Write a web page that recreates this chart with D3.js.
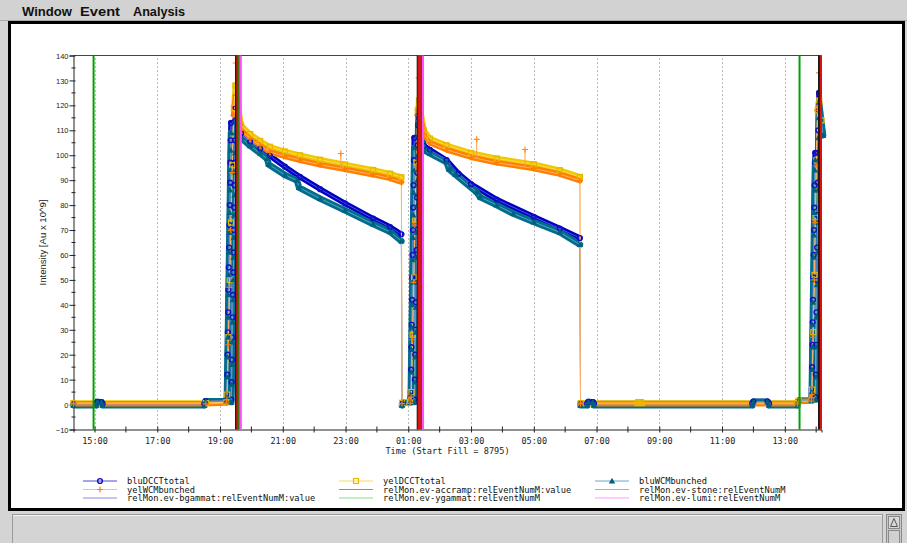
<!DOCTYPE html>
<html>
<head>
<meta charset="utf-8">
<script src="https://cdn.jsdelivr.net/npm/d3@7"></script>
<style>
  html, body { margin: 0; padding: 0; background: #d4d4d4; }
  svg { display: block; }
</style>
</head>
<body>
<svg id="view" width="907" height="543"></svg>
<script>
// ---------------- data ----------------
// times are hours counted from midnight of the day the fill started (25 = 01:00 next day)
const fillNumber = 8795;
const menuItems = ["Window", "Event", "Analysis"];

const xMajorHours = [15, 17, 19, 21, 23, 25, 27, 29, 31, 33, 35, 37];
const xMinorHours = [16, 18, 20, 22, 24, 26, 28, 30, 32, 34, 36, 38];
const xTickLabels = ["15:00", "17:00", "19:00", "21:00", "23:00", "01:00", "03:00", "05:00", "07:00", "09:00", "11:00", "13:00"];
const yMajorTicks = [-10, 0, 10, 20, 30, 40, 50, 60, 70, 80, 90, 100, 110, 120, 130, 140];
const yMinorTicks = [-5, 5, 15, 25, 35, 45, 55, 65, 75, 85, 95, 105, 115, 125, 135];

// blue ring, DCCT total [hour, 10^9 ions]
const bluDCCTtotal = [
  [14.33, 0.3], [15.05, 0.3], [15.09, 1.1], [15.22, 1.0], [15.26, 0.3], [18.50, 0.3], [18.54, 1.4], [19.20, 1.5],
  [19.22, 4], [19.23, 12], [19.24, 20], [19.25, 29], [19.26, 37], [19.27, 46], [19.28, 55], [19.29, 63], [19.30, 72],
  [19.31, 80], [19.32, 89], [19.33, 97], [19.34, 106], [19.35, 113], [19.36, 2],
  [19.37, 9], [19.38, 18], [19.39, 27], [19.40, 35], [19.41, 44], [19.42, 53], [19.43, 61], [19.44, 70], [19.45, 79],
  [19.46, 88], [19.47, 97], [19.48, 106], [19.49, 114], [19.50, 119],
  [19.67, 108.8], [19.96, 105.4], [20.28, 102.6], [20.59, 99.8], [21.07, 95.4], [21.55, 91.3], [22.19, 86.4],
  [22.98, 80.7], [23.88, 74.6], [24.42, 71.2], [24.78, 68.3],
  [24.80, 0.5], [24.84, 0.9], [25.06, 0.9],
  [25.08, 5], [25.09, 14], [25.10, 23], [25.11, 32], [25.12, 42], [25.13, 51], [25.14, 60], [25.15, 70], [25.16, 79],
  [25.17, 88], [25.18, 98], [25.19, 107], [25.20, 2],
  [25.21, 10], [25.22, 20], [25.23, 30], [25.24, 41], [25.25, 51], [25.26, 62], [25.27, 72], [25.28, 83], [25.29, 93],
  [25.30, 104], [25.31, 112], [25.32, 116],
  [25.50, 103.8], [25.69, 102.2], [26.22, 98.0], [26.60, 92.6], [27.00, 88.4], [27.82, 82.2], [29.00, 75.3],
  [29.83, 70.6], [30.47, 66.8],
  [30.49, 0.4], [30.70, 0.4], [30.74, 1.1], [30.88, 1.0], [30.92, 0.4], [35.96, 0.4], [36.00, 1.2], [36.45, 1.2],
  [36.50, 0.4], [37.40, 0.4], [37.44, 1.6], [37.85, 1.7],
  [37.86, 6], [37.87, 15], [37.88, 24], [37.89, 33], [37.90, 42], [37.91, 51], [37.92, 60], [37.93, 70], [37.94, 79],
  [37.95, 88], [37.96, 97], [37.97, 101], [37.98, 3],
  [37.99, 12], [38.00, 24], [38.01, 37], [38.02, 50], [38.03, 63], [38.04, 76], [38.05, 89], [38.06, 101], [38.07, 110],
  [38.08, 118], [38.09, 125]
];

// yellow ring, DCCT total
const yelDCCTtotal = [
  [14.33, 0.6], [18.55, 0.6], [19.20, 0.9],
  [19.23, 4], [19.27, 27], [19.31, 50], [19.35, 73], [19.39, 96], [19.44, 119], [19.49, 128],
  [19.67, 112], [19.96, 108.5], [20.28, 105.7], [20.59, 103.4], [21.07, 101.5], [21.55, 100], [22.19, 98.2],
  [22.98, 96.3], [23.88, 94.1], [24.42, 92.6], [24.78, 91.2],
  [24.80, 0.7], [24.90, 1.0], [25.06, 0.8],
  [25.10, 5], [25.14, 28], [25.18, 51], [25.22, 74], [25.26, 97], [25.30, 118], [25.34, 122],
  [25.50, 110], [25.69, 106.7], [26.22, 104], [27.00, 100.9], [27.82, 98.7], [29.00, 96.4], [29.83, 94], [30.47, 91.3],
  [30.49, 0.6], [32.30, 0.6], [32.33, 1.0], [32.42, 1.0], [32.45, 0.6], [37.40, 0.6], [37.44, 1.5], [37.85, 1.7],
  [37.87, 6], [37.91, 29], [37.95, 52], [37.98, 75], [38.01, 98], [38.05, 118], [38.10, 122], [38.17, 114]
];

// blue ring, wall current monitor bunched intensity
const bluWCMbunched = [
  [14.33, -0.3], [15.05, -0.3], [15.09, 1.0], [15.22, 0.9], [15.26, -0.3], [18.50, -0.3], [18.54, 1.3], [19.20, 1.4],
  [19.22, 3], [19.23, 11], [19.24, 19], [19.25, 27], [19.26, 35], [19.27, 44], [19.28, 52], [19.29, 61], [19.30, 69],
  [19.31, 77], [19.32, 86], [19.33, 94], [19.34, 102], [19.35, 109], [19.36, 1],
  [19.37, 8], [19.38, 16], [19.39, 25], [19.40, 33], [19.41, 42], [19.42, 50], [19.43, 59], [19.44, 67], [19.45, 76],
  [19.46, 84], [19.47, 93], [19.48, 101], [19.49, 109], [19.50, 114],
  [19.67, 107], [19.96, 103.8], [20.28, 100.8], [20.50, 98.6], [20.55, 96.3], [21.07, 92.1], [21.45, 89.9],
  [21.52, 87], [22.19, 82.6], [22.98, 77.9], [23.88, 72.4], [24.42, 69.3], [24.78, 65.6],
  [24.80, -0.3], [24.84, 0.8], [25.06, 0.8],
  [25.08, 4], [25.09, 13], [25.10, 22], [25.11, 31], [25.12, 40], [25.13, 49], [25.14, 58], [25.15, 67], [25.16, 76],
  [25.17, 85], [25.18, 94], [25.19, 103], [25.20, 1],
  [25.21, 9], [25.22, 19], [25.23, 29], [25.24, 39], [25.25, 49], [25.26, 59], [25.27, 69], [25.28, 80], [25.29, 90],
  [25.30, 100], [25.31, 108], [25.32, 113],
  [25.50, 102], [25.69, 100.7], [26.22, 97.2], [26.30, 94.4], [26.50, 92.3], [27.18, 85.2], [27.29, 83.2],
  [27.82, 80], [28.34, 76.6], [29.00, 73.2], [29.83, 69.1], [30.47, 64.2],
  [30.49, -0.3], [30.70, -0.3], [30.74, 1.0], [30.88, 0.9], [30.92, -0.3], [35.96, -0.3], [36.00, 1.1], [36.45, 1.1],
  [36.50, -0.3], [37.40, -0.3], [37.44, 1.5], [37.85, 1.6],
  [37.86, 5], [37.87, 14], [37.88, 23], [37.89, 32], [37.90, 41], [37.91, 50], [37.92, 59], [37.93, 68], [37.94, 77],
  [37.95, 86], [37.96, 94], [37.97, 98], [37.98, 2],
  [37.99, 11], [38.00, 23], [38.01, 35], [38.02, 48], [38.03, 61], [38.04, 73], [38.05, 86], [38.06, 98], [38.07, 107],
  [38.08, 115], [38.09, 121], [38.22, 108]
];

// yellow ring, wall current monitor bunched intensity
const yelWCMbunched = [
  [14.33, 0.3], [18.55, 0.3], [19.20, 0.6],
  [19.22, 2], [19.26, 24], [19.30, 47], [19.34, 70], [19.38, 93], [19.43, 116], [19.50, 124],
  [19.67, 110], [19.96, 106.5], [20.28, 103.8], [20.59, 101.3], [21.07, 99.6], [21.55, 98], [22.19, 96.2],
  [22.98, 94.4], [23.88, 92.2], [24.42, 90.7], [24.78, 89.2],
  [24.80, 0.4], [25.06, 0.5],
  [25.09, 3], [25.13, 26], [25.17, 49], [25.21, 72], [25.25, 95], [25.29, 116], [25.33, 118],
  [25.50, 108.5], [25.69, 105], [26.22, 102.2], [27.00, 99.2], [27.82, 97], [29.00, 94.7], [29.83, 92.4], [30.47, 89.8],
  [30.49, 0.3], [37.40, 0.3], [37.44, 1.2], [37.85, 1.4],
  [37.86, 4], [37.90, 27], [37.94, 50], [37.97, 73], [38.00, 96], [38.04, 118], [38.10, 120]
];

// isolated WCM readings well above the trend: [hour, trend level, reading]
const yelWCMspikes = [
  [19.50, 124, 137], [22.85, 94.6, 100.7], [25.33, 118, 131], [27.18, 98.8, 106.4], [28.72, 95.4, 102.3], [38.09, 120, 133]
];

// relMon event times (hours)
const evBgammat = [19.60, 25.39];
const evAccramp = [19.51, 25.30, 38.09];
const evYgammat = [14.97, 19.58, 25.36, 37.47];
const evStone = [19.55, 25.33, 25.41, 38.15];
const evLumi = [19.665, 25.47];

// ---------------- drawing ----------------
const svg = d3.select("#view");
const DAY0 = Date.UTC(2007, 4, 12);
const T = h => new Date(DAY0 + h * 3600e3);

const pL = 73.5, pR = 821.5, pT = 55.5, pB = 429.5;
const x = d3.scaleUtc().domain([T(14.33), T(38.17)]).range([pL, pR]);
const y = d3.scaleLinear().domain([-10, 140]).range([pB, pT]);
const X = h => x(T(h));

// window chrome
svg.append("rect").attr("x", 0).attr("y", 0).attr("width", 907).attr("height", 543).attr("fill", "#d4d4d4");
svg.append("rect").attr("x", 0).attr("y", 0).attr("width", 907).attr("height", 20).attr("fill", "#d2d2d2");
svg.append("line").attr("x1", 0).attr("x2", 907).attr("y1", 20.5).attr("y2", 20.5).attr("stroke", "#a8a8a8");
const menuX = [22, 80, 133], menuW = [50, 40, 52];
svg.selectAll("text.menu").data(menuItems).join("text")
  .attr("class", "menu")
  .attr("x", (d, i) => menuX[i]).attr("y", 16)
  .attr("textLength", (d, i) => menuW[i]).attr("lengthAdjust", "spacingAndGlyphs")
  .attr("font-family", "Liberation Sans, Arial, sans-serif").attr("font-weight", "bold").attr("font-size", 12)
  .attr("fill", "#111").text(d => d);

// main white panel with heavy border
svg.append("rect").attr("x", 9.5).attr("y", 22.5).attr("width", 894).attr("height", 487)
  .attr("fill", "#fff").attr("stroke", "#000").attr("stroke-width", 3);

// lower status panel and scrollbar
svg.append("rect").attr("x", 12.5).attr("y", 514.5).attr("width", 870).attr("height", 40)
  .attr("fill", "#d4d4d4").attr("stroke", "#9a9a9a");
svg.append("line").attr("x1", 13).attr("x2", 882).attr("y1", 515.5).attr("y2", 515.5).attr("stroke", "#f4f4f4");
svg.append("rect").attr("x", 886.5).attr("y", 514.5).attr("width", 15).attr("height", 40)
  .attr("fill", "#c8c8c8").attr("stroke", "#8a8a8a");
svg.append("rect").attr("x", 888.5).attr("y", 516.5).attr("width", 11).attr("height", 12)
  .attr("fill", "#d8d8d8").attr("stroke", "#8a8a8a");
svg.append("path").attr("d", "M890.5,526.5 L894,518.5 L897.5,526.5 Z").attr("fill", "none").attr("stroke", "#555");
svg.append("rect").attr("x", 888.5).attr("y", 530.5).attr("width", 11).attr("height", 14)
  .attr("fill", "#d0d0d0").attr("stroke", "#8a8a8a");

// vertical dotted grid at labelled hours
svg.append("g").selectAll("line").data(xMajorHours).join("line")
  .attr("x1", d => Math.round(X(d)) + 0.5).attr("x2", d => Math.round(X(d)) + 0.5)
  .attr("y1", pT + 3).attr("y2", pB)
  .attr("stroke", "#777").attr("stroke-dasharray", "1,3");

// frame
svg.append("path").attr("d", `M${pL},${pT}H${pR}V${pB}`).attr("fill", "none").attr("stroke", "#444");

// axes
const xAxis = svg.append("g").attr("transform", `translate(0,${pB})`)
  .call(d3.axisBottom(x).tickValues(xMajorHours.map(T)).tickFormat((d, i) => xTickLabels[i]).tickSizeOuter(0).tickSize(3));
xAxis.select(".domain").attr("stroke", "#222");
xAxis.selectAll(".tick line").attr("y1", -3).attr("y2", 3).attr("stroke", "#222");
xAxis.selectAll(".tick text").attr("y", 14).attr("dy", 0)
  .attr("font-family", "DejaVu Sans Mono, monospace").attr("font-size", 8.5).attr("fill", "#222");
svg.append("g").selectAll("line").data(xMinorHours).join("line")
  .attr("x1", d => X(d)).attr("x2", d => X(d)).attr("y1", pB - 3).attr("y2", pB + 3)
  .attr("stroke", "#222");

const yAxis = svg.append("g").attr("transform", `translate(${pL},0)`)
  .call(d3.axisLeft(y).tickValues(yMajorTicks).tickFormat(d3.format("d")).tickSizeOuter(0).tickSize(4));
yAxis.select(".domain").attr("stroke", "#222");
yAxis.selectAll(".tick line").attr("x1", 2).attr("x2", -4).attr("stroke", "#222");
yAxis.selectAll(".tick text").attr("x", -5).attr("dy", "0.35em")
  .attr("font-family", "Liberation Sans, Arial, sans-serif").attr("font-size", 7.5).attr("fill", "#222");
svg.append("g").selectAll("line").data(yMinorTicks).join("line")
  .attr("x1", pL - 2).attr("x2", pL + 2).attr("y1", d => y(d)).attr("y2", d => y(d))
  .attr("stroke", "#222");

// axis titles
svg.append("text").attr("x", (pL + pR) / 2).attr("y", 454).attr("text-anchor", "middle")
  .attr("font-family", "DejaVu Sans Mono, monospace").attr("font-size", 8.6).attr("fill", "#222")
  .text(`Time (Start Fill = ${fillNumber})`);
svg.append("text").attr("transform", `translate(46,${(pT + pB) / 2}) rotate(-90)`).attr("text-anchor", "middle")
  .attr("textLength", 86).attr("lengthAdjust", "spacingAndGlyphs")
  .attr("font-family", "Liberation Sans, Arial, sans-serif").attr("font-size", 8.5).attr("fill", "#222")
  .text("Intensity [Au x 10^9]");

// ---- series ----
const series = [
  { name: "bluDCCTtotal", data: bluDCCTtotal, band: "#0000c4", thin: "#5050e0", w: 5.5, marker: "circle", mc: "#1010c0" },
  { name: "yelDCCTtotal", data: yelDCCTtotal, band: "#f0c800", thin: "#f8d850", w: 5.5, marker: "square", mc: "#e8b800" },
  { name: "bluWCMbunched", data: bluWCMbunched, band: "#006e8c", thin: "#5aa0c0", w: 6.5, marker: "triangle", mc: "#006080" },
  { name: "yelWCMbunched", data: yelWCMbunched, band: "#ff8000", thin: "#ffb070", w: 5.5, marker: "plus", mc: "#ff7a00" }
];

const lineGen = d3.line().x(d => X(d[0])).y(d => y(d[1]));
function bandPath(data) {
  let p = "";
  for (let i = 0; i < data.length - 1; i++) {
    const a = data[i], b = data[i + 1];
    if (Math.abs(b[1] - a[1]) < 20) p += `M${X(a[0])},${y(a[1])}L${X(b[0])},${y(b[1])}`;
  }
  return p;
}
function drawMarker(g, kind, cx, cy, color) {
  if (kind === "circle") {
    g.append("circle").attr("cx", cx).attr("cy", cy).attr("r", 2.4)
      .attr("fill", "none").attr("stroke", color).attr("stroke-width", 1.4);
  } else if (kind === "square") {
    g.append("rect").attr("x", cx - 2.5).attr("y", cy - 2.5).attr("width", 5).attr("height", 5)
      .attr("fill", "none").attr("stroke", color).attr("stroke-width", 1.2);
  } else if (kind === "triangle") {
    g.append("path").attr("d", `M${cx},${cy - 3.2}L${cx + 3.2},${cy + 2.4}L${cx - 3.2},${cy + 2.4}Z`).attr("fill", color);
  } else {
    g.append("path").attr("d", `M${cx - 3},${cy}H${cx + 3}M${cx},${cy - 3}V${cy + 3}`)
      .attr("stroke", color).attr("stroke-width", 1.2);
  }
}

// dense sample bands first, then thin connecting lines, then the sample markers on top
const bandG = svg.append("g"), thinG = svg.append("g"), markG = svg.append("g");
series.forEach(s => {
  bandG.append("path").attr("d", bandPath(s.data)).attr("fill", "none").attr("stroke", s.band)
    .attr("stroke-width", s.w).attr("stroke-linecap", "round").attr("stroke-linejoin", "round");
  thinG.append("path").attr("d", lineGen(s.data)).attr("fill", "none").attr("stroke", s.thin).attr("stroke-width", 1);
});
// outlier WCM readings: stem from trend
yelWCMspikes.forEach(d => {
  thinG.append("line").attr("x1", X(d[0])).attr("x2", X(d[0])).attr("y1", y(d[1])).attr("y2", y(d[2]))
    .attr("stroke", "#ff9a40").attr("stroke-width", 1);
});
series.forEach(s => {
  const g = markG.append("g");
  s.data.forEach(d => drawMarker(g, s.marker, X(d[0]), y(d[1]), s.mc));
});
yelWCMspikes.forEach(d => drawMarker(markG, "plus", X(d[0]), y(d[2]), "#ff8a20"));

// ---- event markers ----
const events = [
  { name: "relMon.ev-bgammat:relEventNumM:value", times: evBgammat, color: "#5a5af0", legend: "#8888ee" },
  { name: "relMon.ev-accramp:relEventNumM:value", times: evAccramp, color: "#1a1a1a", legend: "#909090" },
  { name: "relMon.ev-ygammat:relEventNumM", times: evYgammat, color: "#00a000", legend: "#88dd88" },
  { name: "relMon.ev-stone:relEventNumM", times: evStone, color: "#dd1010", legend: "#f09090" },
  { name: "relMon.ev-lumi:relEventNumM", times: evLumi, color: "#ff50ff", legend: "#ff99ff" }
];
const evG = svg.append("g");
events.forEach(e => {
  evG.selectAll(null).data(e.times).join("line")
    .attr("x1", d => X(d)).attr("x2", d => X(d)).attr("y1", pT).attr("y2", pB)
    .attr("stroke", e.color).attr("stroke-width", 2);
});

// ---- legend ----
const legendItems = [
  { name: "bluDCCTtotal", line: "#4a4ae0", marker: "circle", mc: "#1010c0" },
  { name: "yelWCMbunched", line: "#ffbb88", marker: "plus", mc: "#ff8000" },
  { name: events[0].name, line: events[0].legend },
  { name: "yelDCCTtotal", line: "#f8dc60", marker: "square", mc: "#e8b800" },
  { name: events[1].name, line: events[1].legend },
  { name: events[2].name, line: events[2].legend },
  { name: "bluWCMbunched", line: "#6aaac8", marker: "triangle", mc: "#006080" },
  { name: events[3].name, line: events[3].legend },
  { name: events[4].name, line: events[4].legend }
];
const colX = [83, 339, 595], rowY = [481, 489.5, 498];
const legG = svg.append("g");
legendItems.forEach((it, i) => {
  const cx = colX[Math.floor(i / 3)], ry = rowY[i % 3];
  legG.append("line").attr("x1", cx).attr("x2", cx + 34).attr("y1", ry).attr("y2", ry)
    .attr("stroke", it.line).attr("stroke-width", 1.2);
  if (it.marker) drawMarker(legG, it.marker, cx + 17, ry, it.mc);
  legG.append("text").attr("x", cx + 44).attr("y", ry + 3)
    .attr("font-family", "DejaVu Sans Mono, monospace").attr("font-size", 8.7).attr("fill", "#111")
    .text(it.name);
});
</script>
</body>
</html>
